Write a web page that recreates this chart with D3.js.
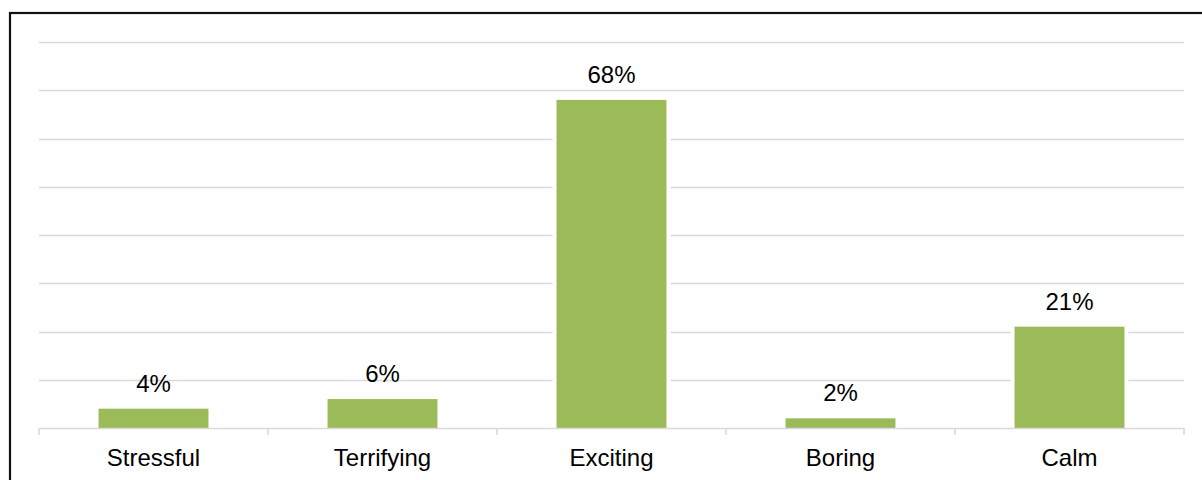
<!DOCTYPE html>
<html>
<head>
<meta charset="utf-8">
<script src="https://cdn.jsdelivr.net/npm/d3@7"></script>
<style>
  html, body { margin: 0; padding: 0; background: #fff; }
  svg { display: block; }
  text { font-family: "Liberation Sans", Arial, sans-serif; fill: #000; }
</style>
</head>
<body>
<svg id="chart" width="1202" height="480"></svg>
<script>
// Share of respondents describing the experience with each word
const categories = ["Stressful", "Terrifying", "Exciting", "Boring", "Calm"];
const values = [4, 6, 68, 2, 21];
const gridTicks = [0, 10, 20, 30, 40, 50, 60, 70, 80];

const svg = d3.select("#chart");
const W = 1202, H = 480;
const plot = { left: 39, right: 1184, top: 42, bottom: 428 };

const x = d3.scaleBand()
  .domain(categories)
  .range([plot.left, plot.right])
  .paddingInner(0.52)
  .paddingOuter(0.26);

const y = d3.scaleLinear()
  .domain([0, 80])
  .range([plot.bottom, plot.top]);

// outer frame
svg.append("rect")
  .attr("x", 10).attr("y", 13)
  .attr("width", W + 10).attr("height", H + 10)
  .attr("fill", "none")
  .attr("stroke", "#111")
  .attr("stroke-width", 2.2);

// horizontal gridlines
svg.append("g")
  .selectAll("line")
  .data(gridTicks.filter(d => d > 0))
  .join("line")
  .attr("x1", plot.left).attr("x2", plot.right)
  .attr("y1", d => Math.round(y(d)) + 0.5)
  .attr("y2", d => Math.round(y(d)) + 0.5)
  .attr("stroke", "#d9d9d9")
  .attr("stroke-width", 1.6);

// bars with a white halo that breaks the gridlines
const bars = svg.append("g");
bars.selectAll("rect.halo")
  .data(categories)
  .join("rect")
  .attr("class", "halo")
  .attr("x", d => x(d) - 4)
  .attr("width", x.bandwidth() + 8)
  .attr("y", (d, i) => y(values[i]) - 4)
  .attr("height", (d, i) => y(0) - y(values[i]) + 4)
  .attr("fill", "#fff");

bars.selectAll("rect.bar")
  .data(categories)
  .join("rect")
  .attr("class", "bar")
  .attr("x", d => x(d))
  .attr("width", x.bandwidth())
  .attr("y", (d, i) => y(values[i]))
  .attr("height", (d, i) => y(0) - y(values[i]))
  .attr("fill", "#9bbb59");

// category axis with boundary ticks
const step = x.step();
const boundaries = d3.range(categories.length + 1).map(i => plot.left + i * (plot.right - plot.left) / categories.length);
const axis = svg.append("g");
axis.append("line")
  .attr("x1", plot.left).attr("x2", plot.right)
  .attr("y1", plot.bottom + 0.5).attr("y2", plot.bottom + 0.5)
  .attr("stroke", "#d9d9d9")
  .attr("stroke-width", 1.6);
axis.selectAll("line.tick")
  .data(boundaries)
  .join("line")
  .attr("class", "tick")
  .attr("x1", d => d).attr("x2", d => d)
  .attr("y1", plot.bottom).attr("y2", plot.bottom + 7)
  .attr("stroke", "#d9d9d9")
  .attr("stroke-width", 1.6);

axis.selectAll("text")
  .data(categories)
  .join("text")
  .attr("x", d => x(d) + x.bandwidth() / 2)
  .attr("y", 466)
  .attr("text-anchor", "middle")
  .attr("font-size", 24)
  .text(d => d);

// value labels
svg.append("g")
  .selectAll("text")
  .data(categories)
  .join("text")
  .attr("x", d => x(d) + x.bandwidth() / 2)
  .attr("y", (d, i) => y(values[i]) - 17)
  .attr("text-anchor", "middle")
  .attr("font-size", 24)
  .text((d, i) => values[i] + "%");
</script>
</body>
</html>
